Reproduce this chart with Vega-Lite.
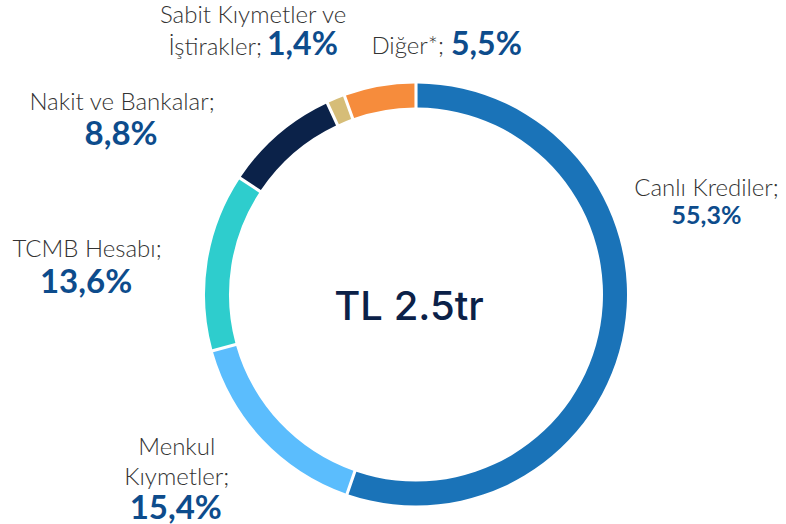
{
  "$schema": "https://vega.github.io/schema/vega-lite/v6.json",
  "width": 740,
  "height": 459,
  "autosize": {"type": "none"},
  "padding": {"left": 46, "top": 65, "right": 0, "bottom": 0},
  "background": "#ffffff",
  "config": {"view": {"stroke": null}},
  "data": {
    "values": [
      {"kategori": "Canlı Krediler", "pay": 55.3, "sira": 1, "ad": "Canlı Krediler;", "ad2": "", "oran": "55,3%"},
      {"kategori": "Menkul Kıymetler", "pay": 15.4, "sira": 2, "ad": "Menkul", "ad2": "Kıymetler;", "oran": "15,4%"},
      {"kategori": "TCMB Hesabı", "pay": 13.6, "sira": 3, "ad": "TCMB Hesabı;", "ad2": "", "oran": "13,6%"},
      {"kategori": "Nakit ve Bankalar", "pay": 8.8, "sira": 4, "ad": "Nakit ve Bankalar;", "ad2": "", "oran": "8,8%"},
      {"kategori": "Sabit Kıymetler ve İştirakler", "pay": 1.4, "sira": 5, "ad": "Sabit Kıymetler ve", "ad2": "İştirakler;", "oran": "1,4%"},
      {"kategori": "Diğer*", "pay": 5.5, "sira": 6, "ad": "Diğer*;", "ad2": "", "oran": "5,5%"}
    ]
  },
  "encoding": {
    "theta": {"field": "pay", "type": "quantitative", "stack": true},
    "order": {"field": "sira", "type": "quantitative"},
    "detail": {"field": "kategori", "type": "nominal"}
  },
  "layer": [
    {
      "mark": {"type": "arc", "outerRadius": 211, "innerRadius": 187, "padAngle": 0.011},
      "encoding": {
        "color": {
          "field": "kategori", "type": "nominal", "legend": null,
          "scale": {
            "domain": ["Canlı Krediler", "Menkul Kıymetler", "TCMB Hesabı", "Nakit ve Bankalar", "Sabit Kıymetler ve İştirakler", "Diğer*"],
            "range": ["#1a73b8", "#5bbdfd", "#2ecdcd", "#0b2249", "#d6bd78", "#f68c3c"]
          }
        }
      }
    },
    {
      "mark": {"type": "text", "radius": 250, "align": "center", "baseline": "alphabetic", "dx": 44, "dy": -140, "font": "Lato", "fontWeight": 300, "fontSize": 24, "color": "#333333"},
      "encoding": {"text": {"condition": {"test": "datum.kategori === 'Canlı Krediler'", "field": "ad", "type": "nominal"}, "value": ""}}
    },
    {
      "mark": {"type": "text", "radius": 250, "align": "center", "baseline": "alphabetic", "dx": 44, "dy": -112, "font": "Lato", "fontWeight": 700, "fontSize": 25, "color": "#0d4c8c"},
      "encoding": {"text": {"condition": {"test": "datum.kategori === 'Canlı Krediler'", "field": "oran", "type": "nominal"}, "value": ""}}
    },
    {
      "mark": {"type": "text", "radius": 250, "align": "center", "baseline": "alphabetic", "dx": -57, "dy": -11, "font": "Lato", "fontWeight": 300, "fontSize": 24, "color": "#333333"},
      "encoding": {"text": {"condition": {"test": "datum.kategori === 'Menkul Kıymetler'", "field": "ad", "type": "nominal"}, "value": ""}}
    },
    {
      "mark": {"type": "text", "radius": 250, "align": "center", "baseline": "alphabetic", "dx": -57, "dy": 19, "font": "Lato", "fontWeight": 300, "fontSize": 24, "color": "#333333"},
      "encoding": {"text": {"condition": {"test": "datum.kategori === 'Menkul Kıymetler'", "field": "ad2", "type": "nominal"}, "value": ""}}
    },
    {
      "mark": {"type": "text", "radius": 250, "align": "center", "baseline": "alphabetic", "dx": -58, "dy": 53, "font": "Lato", "fontWeight": 700, "fontSize": 33, "color": "#0d4c8c"},
      "encoding": {"text": {"condition": {"test": "datum.kategori === 'Menkul Kıymetler'", "field": "oran", "type": "nominal"}, "value": ""}}
    },
    {
      "mark": {"type": "text", "radius": 250, "align": "center", "baseline": "alphabetic", "dx": -82, "dy": 2, "font": "Lato", "fontWeight": 300, "fontSize": 24, "color": "#333333"},
      "encoding": {"text": {"condition": {"test": "datum.kategori === 'TCMB Hesabı'", "field": "ad", "type": "nominal"}, "value": ""}}
    },
    {
      "mark": {"type": "text", "radius": 250, "align": "center", "baseline": "alphabetic", "dx": -83, "dy": 38, "font": "Lato", "fontWeight": 700, "fontSize": 33, "color": "#0d4c8c"},
      "encoding": {"text": {"condition": {"test": "datum.kategori === 'TCMB Hesabı'", "field": "oran", "type": "nominal"}, "value": ""}}
    },
    {
      "mark": {"type": "text", "radius": 250, "align": "center", "baseline": "alphabetic", "dx": -131, "dy": 5, "font": "Lato", "fontWeight": 300, "fontSize": 24, "color": "#333333"},
      "encoding": {"text": {"condition": {"test": "datum.kategori === 'Nakit ve Bankalar'", "field": "ad", "type": "nominal"}, "value": ""}}
    },
    {
      "mark": {"type": "text", "radius": 250, "align": "center", "baseline": "alphabetic", "dx": -132, "dy": 40, "font": "Lato", "fontWeight": 700, "fontSize": 33, "color": "#0d4c8c"},
      "encoding": {"text": {"condition": {"test": "datum.kategori === 'Nakit ve Bankalar'", "field": "oran", "type": "nominal"}, "value": ""}}
    },
    {
      "mark": {"type": "text", "radius": 250, "align": "center", "baseline": "alphabetic", "dx": -68, "dy": -40, "font": "Lato", "fontWeight": 300, "fontSize": 24, "color": "#333333"},
      "encoding": {"text": {"condition": {"test": "datum.kategori === 'Sabit Kıymetler ve İştirakler'", "field": "ad", "type": "nominal"}, "value": ""}}
    },
    {
      "mark": {"type": "text", "radius": 250, "align": "right", "baseline": "alphabetic", "dx": -59, "dy": -8, "font": "Lato", "fontWeight": 300, "fontSize": 24, "color": "#333333"},
      "encoding": {"text": {"condition": {"test": "datum.kategori === 'Sabit Kıymetler ve İştirakler'", "field": "ad2", "type": "nominal"}, "value": ""}}
    },
    {
      "mark": {"type": "text", "radius": 250, "align": "left", "baseline": "alphabetic", "dx": -54, "dy": -8, "font": "Lato", "fontWeight": 700, "fontSize": 32, "color": "#0d4c8c"},
      "encoding": {"text": {"condition": {"test": "datum.kategori === 'Sabit Kıymetler ve İştirakler'", "field": "oran", "type": "nominal"}, "value": ""}}
    },
    {
      "mark": {"type": "text", "radius": 250, "align": "right", "baseline": "alphabetic", "dx": 71, "dy": 6, "font": "Lato", "fontWeight": 300, "fontSize": 24, "color": "#333333"},
      "encoding": {"text": {"condition": {"test": "datum.kategori === 'Diğer*'", "field": "ad", "type": "nominal"}, "value": ""}}
    },
    {
      "mark": {"type": "text", "radius": 250, "align": "left", "baseline": "alphabetic", "dx": 78, "dy": 7, "font": "Lato", "fontWeight": 700, "fontSize": 32, "color": "#0d4c8c"},
      "encoding": {"text": {"condition": {"test": "datum.kategori === 'Diğer*'", "field": "oran", "type": "nominal"}, "value": ""}}
    },
    {
      "data": {"values": [{"baslik": "TL 2.5tr"}]},
      "mark": {"type": "text", "align": "center", "baseline": "alphabetic", "dx": -7, "dy": 25, "font": "Inter", "fontWeight": 500, "fontSize": 40, "color": "#0b2148"},
      "encoding": {"text": {"field": "baslik", "type": "nominal"}, "theta": null, "order": null, "detail": null}
    }
  ]
}
